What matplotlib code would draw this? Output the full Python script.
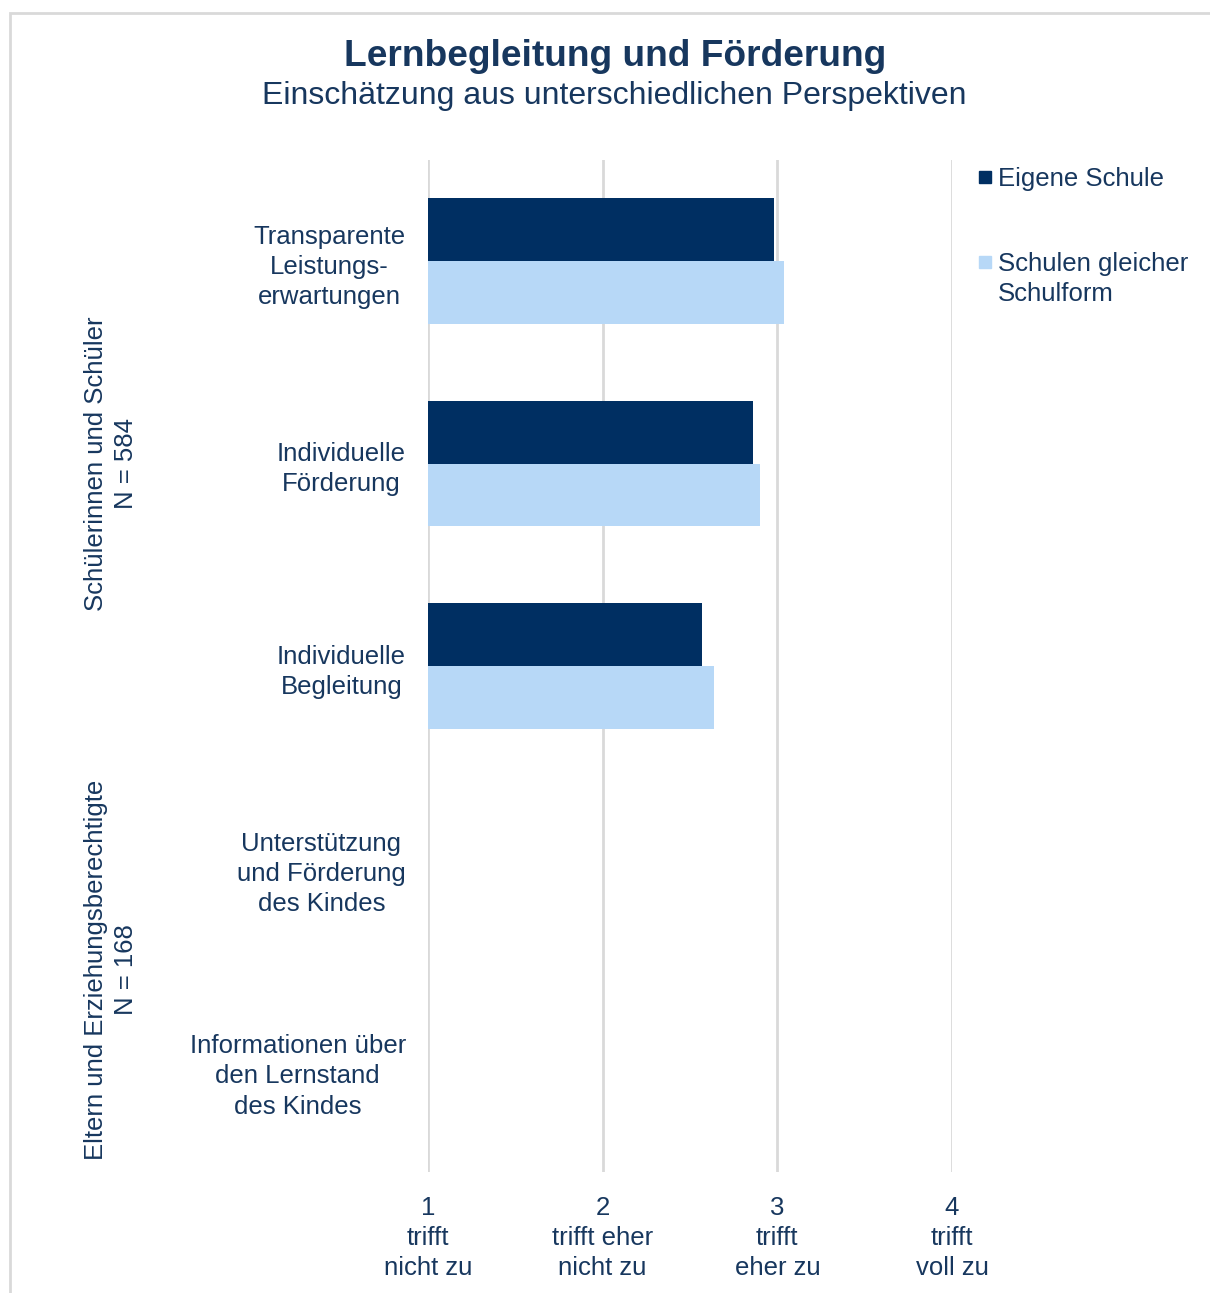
import matplotlib
matplotlib.use("Agg")
import matplotlib.pyplot as plt
from matplotlib.patches import Rectangle
from matplotlib.transforms import blended_transform_factory
import numpy as np

plt.rcParams['font.family'] = ['Liberation Sans', 'DejaVu Sans']

# data
categories = ['Transparente\nLeistungs-\nerwartungen',
              'Individuelle\nFörderung',
              'Individuelle\nBegleitung',
              'Unterstützung\nund Förderung\ndes Kindes',
              'Informationen über\nden Lernstand\ndes Kindes']
eigene = [2.98, 2.86, 2.57, np.nan, np.nan]
gleiche = [3.04, 2.90, 2.64, np.nan, np.nan]
series_names = ['Eigene Schule', 'Schulen gleicher\nSchulform']
tick_vals = [1, 2, 3, 4]
tick_labels = ['1\ntrifft\nnicht zu', '2\ntrifft eher\nnicht zu',
               '3\ntrifft\neher zu', '4\ntrifft\nvoll zu']
groups = ['Schülerinnen und Schüler\nN = 584',
          'Eltern und Erziehungsberechtigte\nN = 168']
group_centers = [1, 3.5]

navy = '#002F62'
light = '#B7D8F7'
txt = '#17375E'
grid_c = '#D9D9D9'
fs = 18.5
ls = 1.33

fig = plt.figure(figsize=(12.10, 12.93), dpi=100)

# outer frame (top and left edges visible)
fig.add_artist(Rectangle((10 / 1210, -0.1), 1.2, 1 - 13 / 1293 + 0.1,
                         transform=fig.transFigure, fill=False,
                         edgecolor=grid_c, linewidth=2))

ax = fig.add_axes([428 / 1210, 1 - 1172 / 1293, 524 / 1210, 1012 / 1293])

y = np.arange(len(categories))
h = 0.31
ax.barh(y - h / 2, np.array(eigene) - 1, left=1, height=h, color=navy)
ax.barh(y + h / 2, np.array(gleiche) - 1, left=1, height=h, color=light)

ax.set_xlim(1, 4)
ax.set_ylim(len(categories) - 0.5, -0.5)
for v in tick_vals:
    ax.axvline(v, color=grid_c, linewidth=2, zorder=0)
for s in ax.spines.values():
    s.set_visible(False)

ax.set_xticks(tick_vals)
ax.set_xticklabels(tick_labels, fontsize=fs, color=txt, linespacing=ls)
ax.set_yticks(y)
ax.set_yticklabels(categories, fontsize=fs, color=txt, linespacing=ls,
                   multialignment='center')
ax.tick_params(axis='both', length=0)
ax.tick_params(axis='x', pad=17)
ax.tick_params(axis='y', pad=16)

# group labels on the left
tr = blended_transform_factory(fig.transFigure, ax.transData)
for g, c in zip(groups, group_centers):
    ax.text(111 / 1210, c, g, transform=tr, rotation=90, fontsize=fs,
            color=txt, ha='center', va='center', linespacing=ls,
            multialignment='center')

# titles
fig.text(0.508, 1 - 56 / 1293, 'Lernbegleitung und Förderung', fontsize=26.7,
         fontweight='bold', color=txt, ha='center', va='center')
fig.text(0.508, 1 - 96 / 1293, 'Einschätzung aus unterschiedlichen Perspektiven',
         fontsize=23, color=txt, ha='center', va='center')

# legend
leg_y = [177, 262]
for name, col, ly in zip(series_names, [navy, light], leg_y):
    fig.add_artist(Rectangle((979 / 1210, 1 - (ly + 6) / 1293), 12 / 1210, 12 / 1293,
                             transform=fig.transFigure, color=col))
    fig.text(998 / 1210, 1 - (ly - 10) / 1293, name, fontsize=fs, color=txt,
             ha='left', va='top', linespacing=ls)

fig.savefig('out.png', dpi=100)
